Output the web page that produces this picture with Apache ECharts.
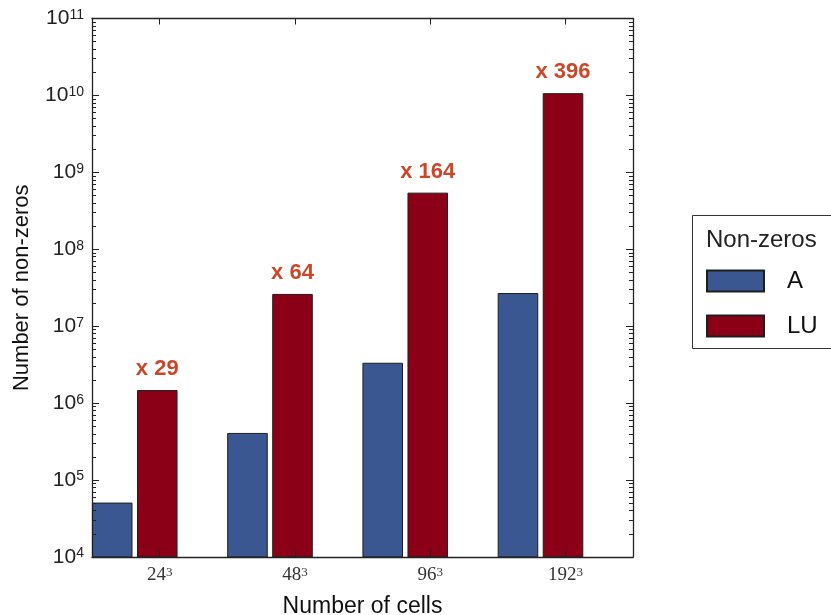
<!DOCTYPE html>
<html>
<head>
<meta charset="utf-8">
<script src="https://cdn.jsdelivr.net/npm/echarts@6/dist/echarts.min.js"></script>
<style>
  html, body { margin: 0; padding: 0; background: #ffffff; }
  #chart { width: 831px; height: 615px; }
</style>
</head>
<body>
<div id="chart"></div>
<script>
// Mesh sizes (cells per side, shown cubed on the axis)
const categories = ['24', '48', '96', '192'];
const cubeExponent = '3';

// Non-zero counts of the system matrix A and of its LU factors
const nnzA  = [5.1e4, 4.1e5, 3.35e6, 2.7e7];
const nnzLU = [1.48e6, 2.63e7, 5.45e8, 1.07e10];

// Fill-in factor written above each LU bar
const ratioLabels = ['x 29', 'x 64', 'x 164', 'x 396'];

// Value-axis range as decade exponents
const yMinExp = 4;
const yMaxExp = 11;

const seriesNames = ['A', 'LU'];
const colorA = '#3b5791';
const colorLU = '#8b0016';
const edgeColor = '#1e1e1e';
const frameColor = '#222222';

// Minor log ticks (2..9 × 10^k) expressed as exponents for the helper value axes
const minorExps = [];
for (let d = yMinExp; d < yMaxExp; d++) {
  for (let k = 2; k <= 9; k++) minorExps.push(Math.log10(k * Math.pow(10, d)));
}

const sansFont = 'Liberation Sans';
const serifFont = 'Liberation Serif';

function decadeLabel(v) {
  const e = Math.round(Math.log10(v));
  return '{b|10}{s|' + e + '}';
}

const majorY = (position, withLabels) => ({
  type: 'log',
  logBase: 10,
  position: position,
  min: Math.pow(10, yMinExp),
  max: Math.pow(10, yMaxExp),
  interval: 1,
  z: 5,
  axisLine: { show: true, lineStyle: { color: frameColor, width: 1.3 } },
  axisTick: { show: true, inside: true, length: 7, lineStyle: { color: frameColor, width: 1 } },
  splitLine: { show: false },
  axisLabel: withLabels ? {
    show: true,
    margin: 8,
    formatter: decadeLabel,
    rich: {
      b: { fontFamily: sansFont, fontSize: 21, lineHeight: 21, color: '#222', padding: [3, 0, 3, 0] },
      s: { fontFamily: sansFont, fontSize: 14, lineHeight: 14, color: '#222', verticalAlign: 'top' }
    }
  } : { show: false },
  name: withLabels ? 'Number of non-zeros' : '',
  nameLocation: 'middle',
  nameGap: 59,
  nameTextStyle: { fontFamily: sansFont, fontSize: 22, color: '#111' }
});

const minorY = (position) => ({
  type: 'value',
  position: position,
  min: yMinExp,
  max: yMaxExp,
  z: 5,
  axisLine: { show: false },
  axisTick: { show: true, inside: true, length: 4, customValues: minorExps, lineStyle: { color: frameColor, width: 1 } },
  axisLabel: { show: false },
  splitLine: { show: false }
});

const catX = (position, withLabels) => ({
  type: 'category',
  position: position,
  data: categories,
  z: 5,
  axisLine: { show: true, lineStyle: { color: frameColor, width: 1.3 } },
  axisTick: { show: true, inside: true, alignWithLabel: true, length: 6, lineStyle: { color: frameColor, width: 1 } },
  splitLine: { show: false },
  axisLabel: withLabels ? {
    show: true,
    margin: 9,
    formatter: (v) => '{b|' + v + '}{s|' + cubeExponent + '}',
    rich: {
      b: { fontFamily: serifFont, fontSize: 19, lineHeight: 19, color: '#333' },
      s: { fontFamily: serifFont, fontSize: 13, lineHeight: 13, color: '#333', verticalAlign: 'top' }
    }
  } : { show: false },
  name: withLabels ? 'Number of cells' : '',
  nameLocation: 'middle',
  nameGap: 38,
  nameTextStyle: { fontFamily: sansFont, fontSize: 23, color: '#111' }
});

const barBase = {
  type: 'bar',
  xAxisIndex: 0,
  yAxisIndex: 0,
  barWidth: '30%',
  barGap: '11%',
  clip: true
};

const chart = echarts.init(document.getElementById('chart'), null, { renderer: 'canvas' });

chart.setOption({
  animation: false,
  backgroundColor: '#ffffff',
  grid: { left: 92, top: 18.5, right: 198, bottom: 58, containLabel: false, outerBoundsMode: 'none' },
  title: {
    text: 'Non-zeros',
    left: 706,
    top: 228,
    padding: 0,
    textStyle: { fontFamily: sansFont, fontSize: 24, fontWeight: 'normal', color: '#222', lineHeight: 24 }
  },
  // legend frame, running off the right edge of the canvas
  graphic: [{
    type: 'rect',
    z: 0,
    shape: { x: 692.5, y: 215.5, width: 220, height: 133 },
    style: { fill: '#ffffff', stroke: '#333', lineWidth: 1 }
  }],
  legend: {
    data: seriesNames,
    orient: 'vertical',
    left: 693,
    top: 215,
    padding: [54, 10, 17, 13],
    itemWidth: 57,
    itemHeight: 21,
    itemGap: 21,
    icon: 'rect',
    textStyle: { fontFamily: sansFont, fontSize: 24, lineHeight: 21, color: '#111', padding: [0, 0, 0, 18] }
  },
  xAxis: [catX('bottom', true), catX('top', false)],
  yAxis: [majorY('left', true), majorY('right', false), minorY('left'), minorY('right')],
  series: [
    Object.assign({}, barBase, {
      name: seriesNames[0],
      data: nnzA,
      itemStyle: { color: colorA, borderColor: edgeColor, borderWidth: 1 }
    }),
    Object.assign({}, barBase, {
      name: seriesNames[1],
      data: nnzLU,
      itemStyle: { color: colorLU, borderColor: edgeColor, borderWidth: 1 },
      label: {
        show: true,
        position: 'top',
        distance: 10,
        formatter: (p) => ratioLabels[p.dataIndex],
        fontFamily: sansFont,
        fontWeight: 'bold',
        fontSize: 22,
        color: '#cc4628'
      }
    }),
    // empty spacer column so each A/LU pair sits at the left of its category band
    Object.assign({}, barBase, {
      barWidth: '33.5%',
      data: categories.map(() => null),
      silent: true,
      itemStyle: { color: 'rgba(0,0,0,0)' }
    })
  ]
});
</script>
</body>
</html>
